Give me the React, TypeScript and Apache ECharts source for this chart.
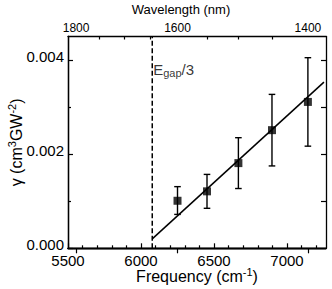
import React, { useEffect, useRef } from "react";
import * as echarts from "echarts";

// ---- data ----
const freq = [6250, 6452, 6667, 6897, 7143]; // cm^-1
const gamma = [0.00101, 0.00121, 0.00181, 0.00251, 0.00311];
const gammaLow = [0.00072, 0.00085, 0.00127, 0.00175, 0.00217];
const gammaHigh = [0.00131, 0.00157, 0.00235, 0.00327, 0.00405];
const fitX = [6077, 7253];
const fitY = [0.0002, 0.00353];
const egapX = 6077;
const egapLabelY = 0.0038;

const freqMajor = [5500, 6000, 6500, 7000];
const freqMinor = [5600, 5700, 5800, 5900, 6100, 6200, 6300, 6400, 6600, 6700, 6800, 6900, 7100, 7200];
const wlMajor = [1800, 1600, 1400];
const wlMinor = [1750, 1700, 1650, 1550, 1500, 1450];
const yMajor = [0, 0.002, 0.004];
const yMinor = [0.001, 0.003];
const yRight = [0.001, 0.002, 0.003, 0.004];

const X_MIN = 5500;
const X_MAX = 7267;
const Y_MIN = 0;
const Y_MAX = 0.0045;

const FONT = "'Liberation Sans', Arial, sans-serif";
const AX_LINE = { show: true, lineStyle: { color: "#000", width: 1.3 } };

function tickAxis(position: string, ticks: number[], len: number, extra: any = {}) {
  return {
    type: "value",
    position,
    axisLine: AX_LINE,
    splitLine: { show: false },
    axisTick: { show: true, inside: true, length: len, customValues: ticks, lineStyle: { color: "#000", width: 1.2 } },
    axisLabel: { show: false },
    nameMoveOverlap: false,
    ...extra,
  };
}

export default function App() {
  const ref = useRef<HTMLDivElement>(null);
  useEffect(() => {
    if (!ref.current) return;
    const chart = echarts.init(ref.current, undefined, { renderer: "svg" });
    const wlToF = (w: number) => 1e7 / w;
    const xCommon = { min: X_MIN, max: X_MAX };
    const yCommon = { min: Y_MIN, max: Y_MAX };
    chart.setOption({
      animation: false,
      backgroundColor: "#fff",
      textStyle: { fontFamily: FONT, color: "#000" },
      grid: { left: 68, right: 6, top: 36.5, bottom: 40.7, outerBoundsMode: "none", containLabel: false },
      xAxis: [
        tickAxis("bottom", freqMajor, 5, {
          ...xCommon,
          axisLabel: {
            show: true,
            customValues: freqMajor,
            formatter: (v: number) => String(Math.round(v)),
            fontSize: 15,
            lineHeight: 12,
            color: "#000",
            fontFamily: FONT,
            margin: 6,
          },
          name: "Frequency (cm{sup|-1})",
          nameLocation: "middle",
          nameGap: 18,
          nameTextStyle: {
            fontSize: 16,
            color: "#000",
            fontFamily: FONT,
            lineHeight: 20,
            rich: {
              sup: { fontSize: 11, lineHeight: 10, verticalAlign: "top", fontFamily: FONT, color: "#000" },
            },
          },
        }),
        tickAxis("bottom", freqMinor, 3, { ...xCommon }),
        tickAxis("top", wlMajor.map(wlToF), 5, {
          ...xCommon,
          axisLabel: {
            show: true,
            customValues: wlMajor.map(wlToF),
            formatter: (v: number) => String(Math.round(1e7 / v / 10) * 10),
            fontSize: 12,
            color: "#000",
            fontFamily: FONT,
            margin: 3,
          },
          name: "Wavelength (nm)",
          nameLocation: "middle",
          nameGap: 21,
          nameTextStyle: { fontSize: 13, color: "#000", fontFamily: FONT, padding: [0, 32, 0, 0] },
        }),
        tickAxis("top", wlMinor.map(wlToF), 3, { ...xCommon }),
      ],
      yAxis: [
        tickAxis("left", yMajor, 5, {
          ...yCommon,
          axisLabel: {
            show: true,
            customValues: yMajor,
            formatter: (v: number) => v.toFixed(3),
            fontSize: 15,
            lineHeight: 8,
            verticalAlign: "bottom",
            color: "#000",
            fontFamily: FONT,
            margin: 4,
          },
          name: "γ (cm{sup|3}GW{sup|-2})",
          nameLocation: "middle",
          nameRotate: 90,
          nameGap: 42,
          nameTextStyle: {
            fontSize: 16,
            color: "#000",
            fontFamily: FONT,
            lineHeight: 20,
            rich: {
              sup: { fontSize: 11, lineHeight: 10, verticalAlign: "top", fontFamily: FONT, color: "#000" },
            },
          },
        }),
        tickAxis("left", yMinor, 3, { ...yCommon }),
        tickAxis("right", yRight, 5, { ...yCommon }),
      ],
      series: [
        {
          type: "line",
          name: "egap",
          xAxisIndex: 0,
          yAxisIndex: 0,
          data: [
            [egapX, Y_MIN],
            [egapX, Y_MAX],
          ],
          showSymbol: false,
          symbol: "none",
          lineStyle: { color: "#000", width: 1.5, type: [5, 2.5] },
          z: 2,
        },
        {
          type: "line",
          name: "fit",
          xAxisIndex: 0,
          yAxisIndex: 0,
          data: fitX.map((x, i) => [x, fitY[i]]),
          showSymbol: false,
          symbol: "none",
          lineStyle: { color: "#000", width: 1.5 },
          z: 3,
        },
        {
          type: "custom",
          name: "err",
          xAxisIndex: 0,
          yAxisIndex: 0,
          data: freq.map((x, i) => [x, gammaLow[i], gammaHigh[i]]),
          encode: { x: 0, y: [1, 2] },
          renderItem: (params: any, api: any) => {
            const x = api.value(0);
            const p1 = api.coord([x, api.value(1)]);
            const p2 = api.coord([x, api.value(2)]);
            const w = 3.3;
            const style = { stroke: "#000", lineWidth: 1.4 };
            return {
              type: "group",
              children: [
                { type: "line", shape: { x1: p1[0], y1: p1[1], x2: p2[0], y2: p2[1] }, style },
                { type: "line", shape: { x1: p1[0] - w, y1: p1[1], x2: p1[0] + w, y2: p1[1] }, style },
                { type: "line", shape: { x1: p2[0] - w, y1: p2[1], x2: p2[0] + w, y2: p2[1] }, style },
              ],
            };
          },
          z: 4,
        },
        {
          type: "scatter",
          name: "gamma",
          xAxisIndex: 0,
          yAxisIndex: 0,
          data: freq.map((x, i) => [x, gamma[i]]),
          symbol: "rect",
          symbolSize: 8,
          itemStyle: { color: "#000" },
          z: 5,
        },
        {
          type: "scatter",
          name: "label",
          xAxisIndex: 0,
          yAxisIndex: 0,
          data: [[egapX, egapLabelY]],
          symbolSize: 0,
          itemStyle: { color: "transparent" },
          silent: true,
          label: {
            show: true,
            position: "right",
            distance: 1,
            formatter: "{e|E}{sub|gap}{e|/3}",
            rich: {
              e: { fontSize: 15, lineHeight: 18, verticalAlign: "middle", fontFamily: FONT, color: "#000" },
              sub: { fontSize: 11, lineHeight: 8, verticalAlign: "bottom", fontFamily: FONT, color: "#000" },
            },
          },
          z: 6,
        },
      ],
    });
    return () => chart.dispose();
  }, []);
  return (
    <div
      ref={ref}
      style={{ position: "fixed", left: 0, top: 0, width: 332, height: 289, background: "#fff" }}
    />
  );
}
